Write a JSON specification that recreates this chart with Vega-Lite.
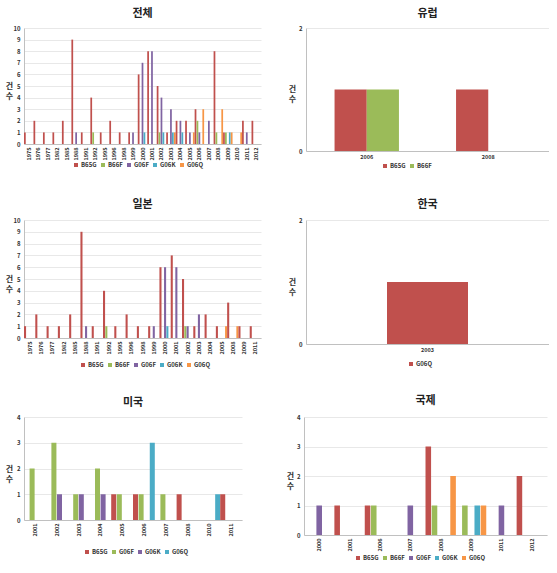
{
  "$schema": "https://vega.github.io/schema/vega-lite/v6.json",
  "padding": {"left": 5, "top": 8, "right": 0, "bottom": 0},
  "datasets": {
    "all": [
      {"year": "1975", "series": "B65G", "count": 1},
      {"year": "1976", "series": "B65G", "count": 2},
      {"year": "1977", "series": "B65G", "count": 1},
      {"year": "1982", "series": "B65G", "count": 1},
      {"year": "1985", "series": "B65G", "count": 2},
      {"year": "1988", "series": "B65G", "count": 9},
      {"year": "1988", "series": "G06F", "count": 1},
      {"year": "1991", "series": "B65G", "count": 1},
      {"year": "1992", "series": "B65G", "count": 4},
      {"year": "1992", "series": "B66F", "count": 1},
      {"year": "1995", "series": "B65G", "count": 1},
      {"year": "1996", "series": "B65G", "count": 2},
      {"year": "1998", "series": "B65G", "count": 1},
      {"year": "1999", "series": "B65G", "count": 1},
      {"year": "1999", "series": "G06F", "count": 1},
      {"year": "2000", "series": "B65G", "count": 6},
      {"year": "2000", "series": "G06F", "count": 7},
      {"year": "2000", "series": "G06K", "count": 1},
      {"year": "2001", "series": "B65G", "count": 8},
      {"year": "2001", "series": "G06F", "count": 8},
      {"year": "2002", "series": "B65G", "count": 5},
      {"year": "2002", "series": "B66F", "count": 1},
      {"year": "2002", "series": "G06F", "count": 4},
      {"year": "2002", "series": "G06K", "count": 1},
      {"year": "2003", "series": "B65G", "count": 1},
      {"year": "2003", "series": "G06F", "count": 3},
      {"year": "2003", "series": "G06K", "count": 1},
      {"year": "2003", "series": "G06Q", "count": 1},
      {"year": "2004", "series": "B65G", "count": 2},
      {"year": "2004", "series": "G06F", "count": 2},
      {"year": "2004", "series": "G06K", "count": 1},
      {"year": "2005", "series": "B65G", "count": 2},
      {"year": "2005", "series": "G06F", "count": 1},
      {"year": "2005", "series": "G06Q", "count": 1},
      {"year": "2006", "series": "B65G", "count": 3},
      {"year": "2006", "series": "B66F", "count": 2},
      {"year": "2006", "series": "G06F", "count": 1},
      {"year": "2006", "series": "G06Q", "count": 3},
      {"year": "2007", "series": "G06F", "count": 2},
      {"year": "2008", "series": "B65G", "count": 8},
      {"year": "2008", "series": "B66F", "count": 1},
      {"year": "2008", "series": "G06Q", "count": 3},
      {"year": "2009", "series": "B65G", "count": 1},
      {"year": "2009", "series": "B66F", "count": 1},
      {"year": "2009", "series": "G06K", "count": 1},
      {"year": "2009", "series": "G06Q", "count": 1},
      {"year": "2010", "series": "G06Q", "count": 1},
      {"year": "2011", "series": "B65G", "count": 2},
      {"year": "2011", "series": "G06F", "count": 1},
      {"year": "2012", "series": "B65G", "count": 2}
    ],
    "europe": [
      {"year": "2006", "series": "B65G", "count": 1},
      {"year": "2006", "series": "B66F", "count": 1},
      {"year": "2008", "series": "B65G", "count": 1}
    ],
    "japan": [
      {"year": "1975", "series": "B65G", "count": 1},
      {"year": "1976", "series": "B65G", "count": 2},
      {"year": "1977", "series": "B65G", "count": 1},
      {"year": "1982", "series": "B65G", "count": 1},
      {"year": "1985", "series": "B65G", "count": 2},
      {"year": "1988", "series": "B65G", "count": 9},
      {"year": "1988", "series": "G06F", "count": 1},
      {"year": "1991", "series": "B65G", "count": 1},
      {"year": "1992", "series": "B65G", "count": 4},
      {"year": "1992", "series": "B66F", "count": 1},
      {"year": "1995", "series": "B65G", "count": 1},
      {"year": "1996", "series": "B65G", "count": 2},
      {"year": "1998", "series": "B65G", "count": 1},
      {"year": "1999", "series": "B65G", "count": 1},
      {"year": "1999", "series": "G06F", "count": 1},
      {"year": "2000", "series": "B65G", "count": 6},
      {"year": "2000", "series": "G06F", "count": 6},
      {"year": "2000", "series": "G06K", "count": 1},
      {"year": "2001", "series": "B65G", "count": 7},
      {"year": "2001", "series": "G06F", "count": 6},
      {"year": "2002", "series": "B65G", "count": 5},
      {"year": "2002", "series": "B66F", "count": 1},
      {"year": "2002", "series": "G06F", "count": 1},
      {"year": "2003", "series": "B65G", "count": 1},
      {"year": "2003", "series": "G06F", "count": 2},
      {"year": "2004", "series": "B65G", "count": 2},
      {"year": "2005", "series": "B65G", "count": 1},
      {"year": "2005", "series": "G06Q", "count": 1},
      {"year": "2008", "series": "B65G", "count": 3},
      {"year": "2008", "series": "G06Q", "count": 1},
      {"year": "2009", "series": "B65G", "count": 1},
      {"year": "2011", "series": "B65G", "count": 1}
    ],
    "korea": [
      {"year": "2003", "series": "G06Q", "count": 1}
    ],
    "usa": [
      {"year": "2001", "series": "G06F", "count": 2},
      {"year": "2002", "series": "G06F", "count": 3},
      {"year": "2002", "series": "G06K", "count": 1},
      {"year": "2003", "series": "G06F", "count": 1},
      {"year": "2003", "series": "G06K", "count": 1},
      {"year": "2004", "series": "G06F", "count": 2},
      {"year": "2004", "series": "G06K", "count": 1},
      {"year": "2005", "series": "B65G", "count": 1},
      {"year": "2005", "series": "G06F", "count": 1},
      {"year": "2006", "series": "B65G", "count": 1},
      {"year": "2006", "series": "G06F", "count": 1},
      {"year": "2006", "series": "G06Q", "count": 3},
      {"year": "2007", "series": "G06F", "count": 1},
      {"year": "2008", "series": "B65G", "count": 1},
      {"year": "2010", "series": "G06Q", "count": 1},
      {"year": "2011", "series": "B65G", "count": 1}
    ],
    "intl": [
      {"year": "2000", "series": "G06F", "count": 1},
      {"year": "2001", "series": "B65G", "count": 1},
      {"year": "2006", "series": "B65G", "count": 1},
      {"year": "2006", "series": "B66F", "count": 1},
      {"year": "2007", "series": "G06F", "count": 1},
      {"year": "2008", "series": "B65G", "count": 3},
      {"year": "2008", "series": "B66F", "count": 1},
      {"year": "2008", "series": "G06Q", "count": 2},
      {"year": "2009", "series": "B66F", "count": 1},
      {"year": "2009", "series": "G06K", "count": 1},
      {"year": "2009", "series": "G06Q", "count": 1},
      {"year": "2011", "series": "G06F", "count": 1},
      {"year": "2012", "series": "B65G", "count": 2}
    ]
  },
  "vconcat": [
    {
      "hconcat": [
        {
          "title": {"text": "전체", "offset": 6},
          "width": 237, "height": 116,
          "data": {"name": "all"},
          "mark": {"type": "bar"},
          "encoding": {
            "x": {"field": "year", "type": "ordinal", "scale": {"paddingInner": 0, "paddingOuter": 0}, "axis": {"title": null, "labelAngle": -90}},
            "xOffset": {"field": "series", "scale": {"domain": ["B65G", "B66F", "G06F", "G06K", "G06Q"], "paddingInner": 0.1}},
            "y": {"field": "count", "type": "quantitative", "scale": {"domain": [0, 10]}, "axis": {"values": [0, 1, 2, 3, 4, 5, 6, 7, 8, 9, 10], "format": "d", "title": ["건", "수"], "titleX": -15, "titleY": 58}},
            "color": {"field": "series", "type": "nominal", "scale": {"domain": ["B65G", "B66F", "G06F", "G06K", "G06Q"], "range": ["#C0504D", "#9BBB59", "#8064A2", "#4BACC6", "#F79646"]}, "legend": {"legendX": 49, "legendY": 134}}
          }
        },
        {
          "title": {"text": "유럽", "offset": 6},
          "width": 243, "height": 123,
          "data": {"name": "europe"},
          "mark": {"type": "bar"},
          "encoding": {
            "x": {"field": "year", "type": "ordinal", "scale": {"paddingInner": 0.47, "paddingOuter": 0.235}, "axis": {"title": null, "labelAngle": 0}},
            "xOffset": {"field": "series", "scale": {"domain": ["B65G", "B66F"], "paddingInner": 0}},
            "y": {"field": "count", "type": "quantitative", "scale": {"domain": [0, 2]}, "axis": {"values": [0, 1, 2], "format": "d", "title": ["건", "수"], "titleX": -14, "titleY": 61}},
            "color": {"field": "series", "type": "nominal", "scale": {"domain": ["B65G", "B66F"], "range": ["#C0504D", "#9BBB59"]}, "legend": {"legendX": 76, "legendY": 135}}
          }
        }
      ],
      "spacing": 27,
      "resolve": {"scale": {"x": "independent", "y": "independent", "xOffset": "independent", "color": "independent"}, "legend": {"color": "independent"}}
    },
    {
      "vconcat": [
        {
          "hconcat": [
            {
              "title": {"text": "일본", "offset": 7},
              "width": 237, "height": 118,
              "data": {"name": "japan"},
              "mark": {"type": "bar"},
              "encoding": {
                "x": {"field": "year", "type": "ordinal", "scale": {"paddingInner": 0, "paddingOuter": 0}, "axis": {"title": null, "labelAngle": -90}},
                "xOffset": {"field": "series", "scale": {"domain": ["B65G", "B66F", "G06F", "G06K", "G06Q"], "paddingInner": 0.1}},
                "y": {"field": "count", "type": "quantitative", "scale": {"domain": [0, 10]}, "axis": {"values": [0, 1, 2, 3, 4, 5, 6, 7, 8, 9, 10], "format": "d", "title": ["건", "수"], "titleX": -15, "titleY": 59}},
                "color": {"field": "series", "type": "nominal", "scale": {"domain": ["B65G", "B66F", "G06F", "G06K", "G06Q"], "range": ["#C0504D", "#9BBB59", "#8064A2", "#4BACC6", "#F79646"]}, "legend": {"legendX": 56, "legendY": 142}}
              }
            },
            {
              "title": {"text": "한국", "offset": 7},
              "width": 243, "height": 124,
              "data": {"name": "korea"},
              "mark": {"type": "bar"},
              "encoding": {
                "x": {"field": "year", "type": "ordinal", "scale": {"paddingInner": 0, "paddingOuter": 1.525}, "axis": {"title": null, "labelAngle": 0}},
                "y": {"field": "count", "type": "quantitative", "scale": {"domain": [0, 2]}, "axis": {"values": [0, 1, 2], "format": "d", "title": ["건", "수"], "titleX": -14, "titleY": 62}},
                "color": {"field": "series", "type": "nominal", "scale": {"domain": ["G06Q"], "range": ["#C0504D"]}, "legend": {"legendX": 102, "legendY": 141}}
              }
            }
          ],
          "spacing": 27,
          "resolve": {"scale": {"x": "independent", "y": "independent", "xOffset": "independent", "color": "independent"}, "legend": {"color": "independent"}}
        },
        {
          "hconcat": [
            {
              "title": {"text": "미국", "offset": 6},
              "width": 218, "height": 103,
              "data": {"name": "usa"},
              "mark": {"type": "bar"},
              "encoding": {
                "x": {"field": "year", "type": "ordinal", "scale": {"paddingInner": 0, "paddingOuter": 0}, "axis": {"title": null, "labelAngle": -90}},
                "xOffset": {"field": "series", "scale": {"domain": ["B65G", "G06F", "G06K", "G06Q"], "paddingInner": 0.1}},
                "y": {"field": "count", "type": "quantitative", "scale": {"domain": [0, 4]}, "axis": {"values": [0, 1, 2, 3, 4], "format": "d", "title": ["건", "수"], "titleX": -15, "titleY": 52}},
                "color": {"field": "series", "type": "nominal", "scale": {"domain": ["B65G", "G06F", "G06K", "G06Q"], "range": ["#C0504D", "#9BBB59", "#8064A2", "#4BACC6"]}, "legend": {"legendX": 60, "legendY": 132}}
              }
            },
            {
              "title": {"text": "국제", "offset": 8},
              "width": 243, "height": 118,
              "data": {"name": "intl"},
              "mark": {"type": "bar"},
              "encoding": {
                "x": {"field": "year", "type": "ordinal", "scale": {"paddingInner": 0, "paddingOuter": 0}, "axis": {"title": null, "labelAngle": -90}},
                "xOffset": {"field": "series", "scale": {"domain": ["B65G", "B66F", "G06F", "G06K", "G06Q"], "paddingInner": 0.1}},
                "y": {"field": "count", "type": "quantitative", "scale": {"domain": [0, 4]}, "axis": {"values": [0, 1, 2, 3, 4], "format": "d", "title": ["건", "수"], "titleX": -14, "titleY": 59}},
                "color": {"field": "series", "type": "nominal", "scale": {"domain": ["B65G", "B66F", "G06F", "G06K", "G06Q"], "range": ["#C0504D", "#9BBB59", "#8064A2", "#4BACC6", "#F79646"]}, "legend": {"legendX": 51, "legendY": 138}}
              }
            }
          ],
          "spacing": 44,
          "resolve": {"scale": {"x": "independent", "y": "independent", "xOffset": "independent", "color": "independent"}, "legend": {"color": "independent"}}
        }
      ],
      "spacing": 27,
      "resolve": {"scale": {"x": "independent", "y": "independent", "xOffset": "independent", "color": "independent"}, "legend": {"color": "independent"}}
    }
  ],
  "spacing": 30,
  "resolve": {"scale": {"x": "independent", "y": "independent", "xOffset": "independent", "color": "independent"}, "legend": {"color": "independent"}},
  "config": {
    "font": "Noto Sans CJK KR",
    "view": {"stroke": null},
    "title": {"fontSize": 11, "fontWeight": "bold", "anchor": "middle", "offset": 8, "color": "#222"},
    "axis": {"labelFontSize": 6, "labelFontWeight": "bold", "labelColor": "#333", "ticks": false, "domainColor": "#c0c0c0", "gridColor": "#e8e8e8", "labelPadding": 4},
    "axisX": {"grid": false, "labelPadding": 3, "labelFontSize": 5.5},
    "axisY": {"titleAngle": 0, "titleFontSize": 8, "titleFontWeight": "bold", "titleAlign": "center", "titleBaseline": "middle", "titleColor": "#333", "titleLineHeight": 10},
    "legend": {"orient": "none", "direction": "horizontal", "title": null, "symbolType": "square", "symbolSize": 16, "symbolStrokeWidth": 0, "labelFontSize": 6, "labelFontWeight": "bold", "labelColor": "#333", "columnPadding": 3, "labelOffset": 2}
  }
}
